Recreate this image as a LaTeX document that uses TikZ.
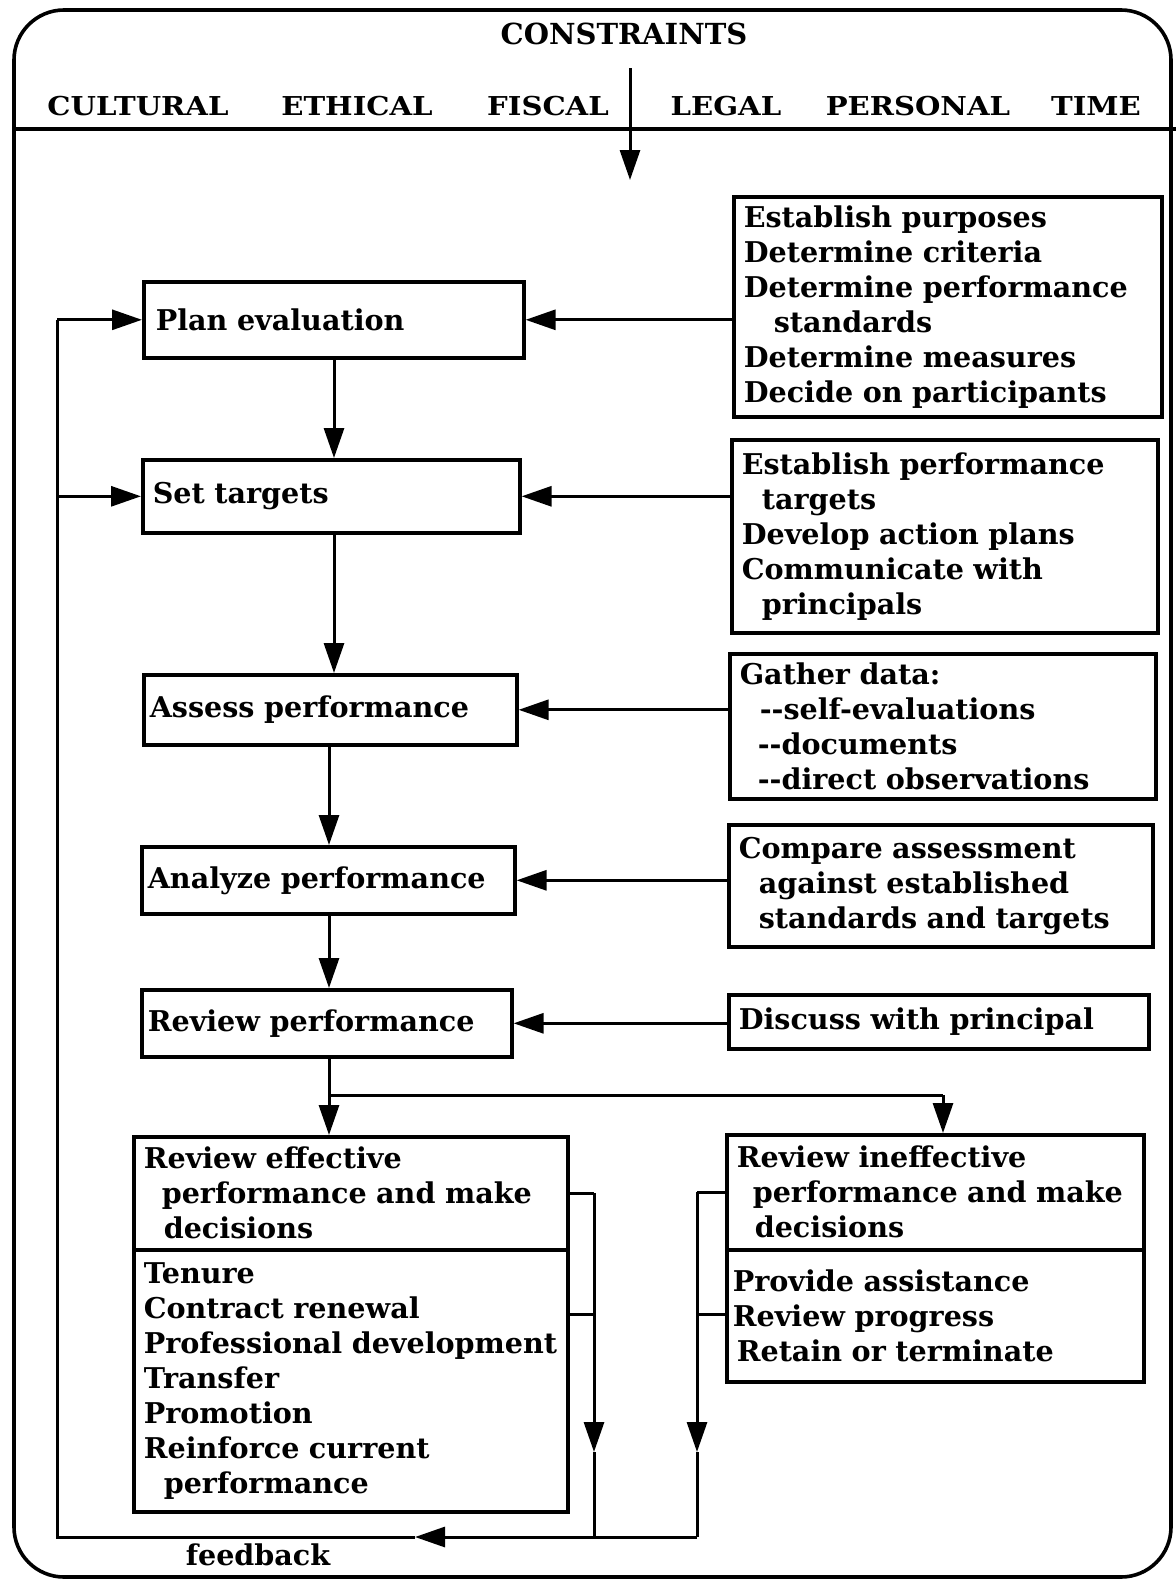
\documentclass[tikz,border=0pt]{standalone}
\usepackage{fontspec}
\setmainfont{DejaVu Serif}
\newfontfamily\hdrfont{DejaVu Serif}[FakeStretch=1.12]
\usetikzlibrary{arrows.meta,calc}
\newcommand\txtfont{\bfseries\fontsize{14.3}{17.5}\selectfont}
\tikzset{
  bx/.style={draw, line width=1.8pt, anchor=north west, inner ysep=0pt, align=left, font=\txtfont},
  ln/.style={line width=1.5pt},
  ar/.style={line width=1.5pt, -{Triangle[length=15pt,width=10pt]}},
  hdr/.style={font=\hdrfont\bfseries\fontsize{13}{15}\selectfont},
}
\begin{document}
\begin{tikzpicture}[x=0.5pt,y=-0.5pt]
\useasboundingbox (0,0) rectangle (1176,1579);
% frame
\draw[line width=1.8pt, rounded corners=25pt] (14,10) rectangle (1171,1577);
\draw[line width=1.8pt] (14,129) -- (1176,129);
% header
\node[font=\bfseries\fontsize{14.5}{16}\selectfont] (cons) at (624,34) {CONSTRAINTS};
\node[hdr] (h1) at (138,106) {CULTURAL};
\node[hdr] (h2) at (357,106) {ETHICAL};
\node[hdr] (h3) at (548,106) {FISCAL};
\node[hdr] (h4) at (726,106) {LEGAL};
\node[hdr] (h5) at (918,106) {PERSONAL};
\node[hdr] (h6) at (1096,106) {TIME};
\coordinate (ca) at (630,68);
\coordinate (cb) at (630,180);
\draw[ar] (ca) -- (cb);
% left column
\node[bx, inner xsep=6pt, text width=178pt, minimum height=38pt] (plan) at (142,280) {Plan evaluation};
\node[bx, inner xsep=5pt, text width=178.5pt, minimum height=36.5pt] (set) at (141,458) {Set targets};
\node[bx, inner xsep=3pt, text width=180.5pt, minimum height=35pt] (ass) at (142,673) {Assess performance};
\node[bx, inner xsep=3pt, text width=180.5pt, minimum height=33.5pt] (ana) at (140,845) {Analyze performance};
\node[bx, inner xsep=3pt, text width=179pt, minimum height=33.5pt] (rev) at (140,988) {Review performance};
\node[bx, inner xsep=5pt, text width=207pt, minimum height=56.5pt] (e1) at (132,1135)
  {Review effective\\\hspace*{9pt}performance and make\\\hspace*{10pt}decisions};
\node[bx, inner xsep=5pt, text width=207pt, minimum height=131pt] (e2) at (132,1248)
  {Tenure\\Contract renewal\\Professional development\\Transfer\\Promotion\\Reinforce current\\\hspace*{10pt}performance};
% right column
\node[bx, inner xsep=5pt, text width=204pt, minimum height=110pt] (b1) at (732,195)
  {Establish purposes\\Determine criteria\\Determine performance\\\hspace*{15pt}standards\\Determine measures\\Decide on participants};
\node[bx, inner xsep=5pt, text width=203pt, minimum height=96.5pt] (b2) at (730,438)
  {Establish performance\\\hspace*{10pt}targets\\Develop action plans\\Communicate with\\\hspace*{10pt}principals};
\node[bx, inner xsep=5pt, text width=203pt, minimum height=72.5pt] (b3) at (728,652)
  {Gather data:\\\hspace*{10pt}-{}-self-evaluations\\\hspace*{9pt}-{}-documents\\\hspace*{9pt}-{}-direct observations};
\node[bx, inner xsep=5pt, text width=202pt, minimum height=61pt] (b4) at (727,823)
  {Compare assessment\\\hspace*{10pt}against established\\\hspace*{10pt}standards and targets};
\node[bx, inner xsep=5pt, text width=200pt, minimum height=27pt] (b5) at (727,993) {Discuss with principal};
\node[bx, inner xsep=5pt, text width=198.5pt, minimum height=57.5pt] (i1) at (725,1133)
  {Review ineffective\\\hspace*{8pt}performance and make\\\hspace*{9pt}decisions};
\node[bx, inner xsep=3pt, text width=202.5pt, minimum height=66pt] (i2) at (725,1248)
  {Provide assistance\\Review progress\\\hspace*{2pt}Retain or terminate\par\vspace*{5pt}};
% spine arrows
\coordinate (spA) at (334,0);
\coordinate (spB) at (329,0);
\draw[ar] (plan.south -| spA) -- (set.north -| spA);
\draw[ar] (set.south -| spA) -- (ass.north -| spA);
\draw[ar] (ass.south -| spB) -- (ana.north -| spB);
\draw[ar] (ana.south -| spB) -- (rev.north -| spB);
\draw[ar] (rev.south -| spB) -- (e1.north -| spB);
\coordinate (sy) at (0,1095);
\coordinate (s1) at (spB |- sy);
\coordinate (s2) at (943,1095);
\draw[ln] (s1) -- (s2);
\draw[ar] (s2) -- (i1.north -| s2);
% input arrows
\draw[ar] (b1.west |- plan.east) -- (plan.east);
\draw[ar] (b2.west |- set.east) -- (set.east);
\draw[ar] (b3.west |- ass.east) -- (ass.east);
\draw[ar] (b4.west |- ana.east) -- (ana.east);
\draw[ar] (b5.west |- rev.east) -- (rev.east);
% feedback
\coordinate (rx) at (594,0);
\coordinate (lx) at (697,0);
\coordinate (by) at (0,1537);
\coordinate (ty) at (0,1452);
\coordinate (fx) at (57,0);
\coordinate (ry) at (0,1314);
\coordinate (r1) at (e1.east -| rx);
\coordinate (r2) at (rx |- ry);
\coordinate (r3) at (rx |- ty);
\coordinate (r4) at (rx |- by);
\coordinate (l1) at (i1.west -| lx);
\coordinate (l2) at (lx |- ry);
\coordinate (l3) at (lx |- ty);
\coordinate (l4) at (lx |- by);
\draw[ln] (e1.east) -- (r1);
\draw[ln] (e2.east |- ry) -- (r2);
\draw[ar] (r1) -- (r3);
\draw[ln] (r3) -- (r4);
\draw[ln] (i1.west) -- (l1);
\draw[ln] (i2.west |- ry) -- (l2);
\draw[ar] (l1) -- (l3);
\draw[ln] (l3) -- (l4);
\coordinate (ftip) at (415,1537);
\coordinate (f1) at (fx |- by);
\coordinate (f2) at (fx |- plan.west);
\draw[ar] (l4) -- (ftip);
\draw[ln] (ftip) -- (f1) -- (f2);
\draw[ar] (f2) -- (plan.west);
\draw[ar] (fx |- set.west) -- (set.west);
\node[font=\txtfont] (fb) at (258,1555) {feedback};
\end{tikzpicture}
\end{document}
